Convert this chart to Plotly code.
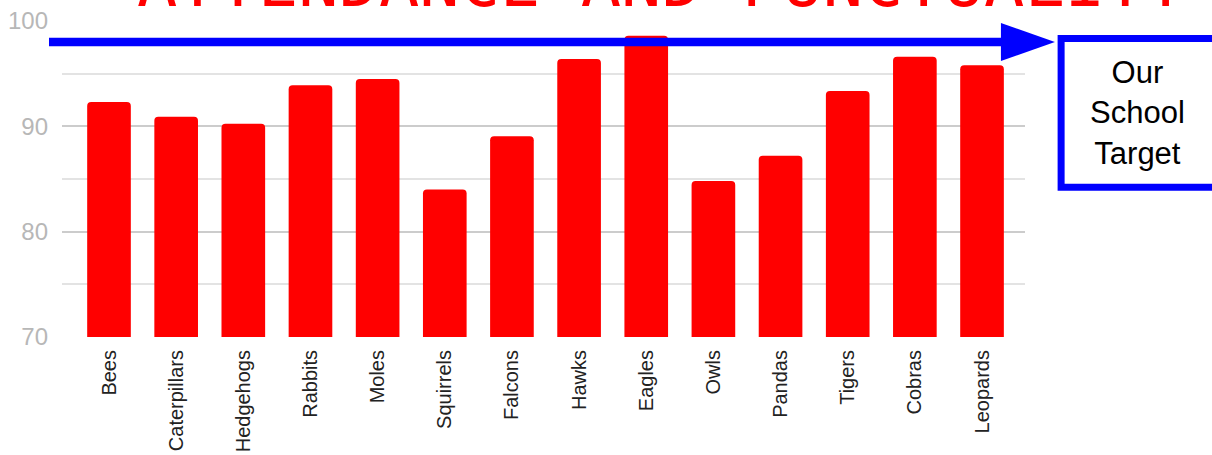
import plotly.graph_objects as go

categories = ["Bees", "Caterpillars", "Hedgehogs", "Rabbits", "Moles", "Squirrels",
              "Falcons", "Hawks", "Eagles", "Owls", "Pandas", "Tigers", "Cobras", "Leopards"]
attendance = [92.3, 90.9, 90.25, 93.9, 94.5, 84.0, 89.05, 96.4, 98.6, 84.8, 87.2, 93.35, 96.6, 95.8]
school_target = 98.0
y_ticks = [70, 80, 90, 100]
title_text = "ATTENDANCE AND PUNCTUALITY"
target_label = "Our<br>School<br>Target"

fig = go.Figure()
fig.add_trace(go.Bar(
    x=categories, y=attendance,
    marker=dict(color="#ff0000", line=dict(width=0), cornerradius=4),
    width=0.65,
    hoverinfo="x+y",
))

# target arrow line
fig.add_shape(type="line", xref="paper", yref="y",
              x0=-0.0135, x1=0.976, y0=school_target, y1=school_target,
              line=dict(color="#0000ff", width=8.5), layer="above")
# arrow head
fig.add_shape(type="path", xref="paper", yref="y",
              xsizemode="pixel", ysizemode="pixel",
              xanchor=0.975, yanchor=school_target,
              path="M 0,-19 L 0,19 L 54,0 Z",
              fillcolor="#0000ff", line=dict(color="#0000ff", width=0), layer="above")
# label box
fig.add_shape(type="rect", xref="paper", yref="paper",
              x0=1.0375, x1=1.2, y0=0.474, y1=0.945,
              line=dict(color="#0000ff", width=7), fillcolor="white")
fig.add_annotation(text=target_label, xref="paper", yref="paper",
                   x=1.117, y=0.71, xanchor="center", yanchor="middle",
                   showarrow=False, align="center",
                   font=dict(family="Liberation Sans, Arial", size=31, color="#000000"))

# title (cut off at top as in reference)
fig.add_annotation(text=title_text, xref="paper", yref="paper",
                   x=0.623, y=1, xanchor="center", yanchor="bottom", yshift=-3,
                   showarrow=False,
                   font=dict(family="DejaVu Sans Mono", size=67, color="#ff0000"))

fig.update_layout(
    width=1212, height=455,
    margin=dict(l=62, r=187, t=21, b=118, autoexpand=False),
    paper_bgcolor="white", plot_bgcolor="white",
    showlegend=False,
    bargap=0.35,
    xaxis=dict(
        range=[-0.7, 13.64],
        tickangle=-90,
        tickfont=dict(family="Liberation Sans, Arial", size=20, color="#222222"),
        showgrid=False, showline=False, zeroline=False,
        ticks="", ticklen=0,
        ticklabelstandoff=8,
        automargin=False,
    ),
    yaxis=dict(
        range=[70, 100],
        tickvals=y_ticks,
        tickfont=dict(family="Liberation Sans, Arial", size=24, color="#b7b7b7"),
        showgrid=True, gridcolor="#cccccc", gridwidth=1.5,
        zeroline=False, showline=False, ticks="",
        ticklabelstandoff=13,
        automargin=False,
        minor=dict(dtick=5, tick0=70, showgrid=True, gridcolor="#e3e3e3", gridwidth=1.5),
    ),
)

fig.write_html("out.html", config={"displayModeBar": False},
               post_script="document.body.style.margin='0px';document.body.style.overflow='hidden';")
